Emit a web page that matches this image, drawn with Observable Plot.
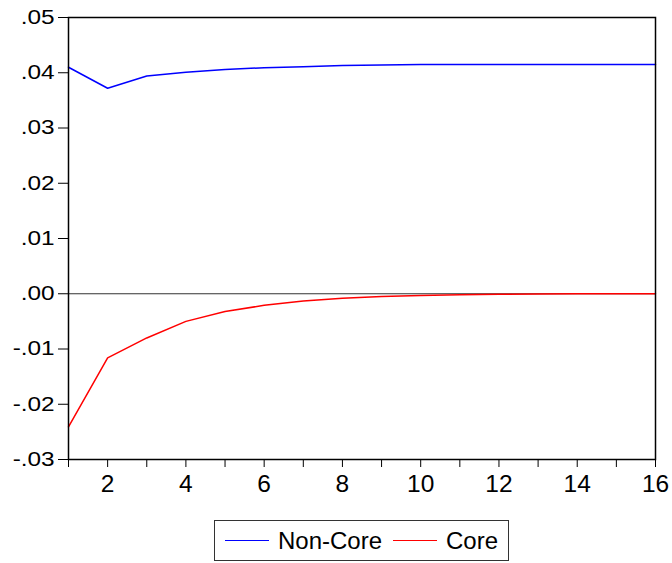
<!DOCTYPE html>
<html>
<head>
<meta charset="utf-8">
<script src="https://cdn.jsdelivr.net/npm/d3@7"></script>
<script src="https://cdn.jsdelivr.net/npm/@observablehq/plot@0.6"></script>
<style>
  body { margin: 0; background: #fff; font-family: "Liberation Sans", Arial, sans-serif; }
  #wrap { position: relative; width: 672px; height: 563px; }
  #chart svg text { font-family: "Liberation Sans", Arial, sans-serif; font-size: 19.5px; fill: #000; }
  #chart svg g[aria-label^="x-axis"] text { font-size: 24.5px; }
  #legend { position: absolute; left: 214px; top: 520px;
            border: 1px solid #333; display: flex; align-items: center; justify-content: space-between;
            padding: 0 10px; box-sizing: border-box; width: 295px; height: 41px;
            font-size: 24px; color: #000; }
  .item { display: flex; align-items: center; }
  .swatch { width: 44px; height: 0; border-top: 1.5px solid; margin-right: 9px; }
</style>
</head>
<body>
<div id="wrap"><div id="chart"></div><div id="legend"></div></div>
<script>
const periods = [1, 2, 3, 4, 5, 6, 7, 8, 9, 10, 11, 12, 13, 14, 15, 16];
const nonCore = [0.0410, 0.0372, 0.0394, 0.0401, 0.0406, 0.0409, 0.0411, 0.0413, 0.0414, 0.0415, 0.0415, 0.0415, 0.0415, 0.0415, 0.0415, 0.0415];
const core = [-0.0241, -0.0116, -0.0080, -0.0050, -0.0032, -0.0021, -0.0013, -0.0008, -0.0005, -0.0003, -0.0002, -0.0001, -0.00005, 0, 0, 0];
const seriesNames = ["Non-Core", "Core"];
const seriesColors = ["#0000ff", "#ff0000"];
const xTicks = [1, 2, 3, 4, 5, 6, 7, 8, 9, 10, 11, 12, 13, 14, 15, 16];
const yTicks = [-0.03, -0.02, -0.01, 0, 0.01, 0.02, 0.03, 0.04, 0.05];

const data = [];
periods.forEach((p, i) => {
  data.push({ period: p, value: nonCore[i], series: seriesNames[0] });
  data.push({ period: p, value: core[i], series: seriesNames[1] });
});

const fmtY = d => {
  const r = Math.round(d * 100);
  return (r < 0 ? "-" : "") + "." + String(Math.abs(r)).padStart(2, "0");
};

const ML = 68, YTICK = 10, YPAD = 4;
const chart = Plot.plot({
  width: 672,
  height: 505,
  marginLeft: ML,
  marginRight: 17,
  marginTop: 17,
  marginBottom: 46,
  style: { fontFamily: "'Liberation Sans', Arial, sans-serif", color: "#000", background: "#fff" },
  x: { domain: [1, 16], label: null },
  y: { domain: [-0.03, 0.05], label: null },
  color: { domain: seriesNames, range: seriesColors },
  marks: [
    Plot.axisX({ ticks: xTicks, tickSize: 8, tickPadding: 7, label: null, tickFormat: d => (d % 2 === 0 ? String(d) : "") }),
    Plot.axisY({ ticks: yTicks, tickSize: YTICK, tickPadding: YPAD, label: null, tickFormat: fmtY }),
    Plot.ruleY([0], { stroke: "#333", strokeWidth: 1 }),
    Plot.lineY(data, { x: "period", y: "value", z: "series", stroke: "series", strokeWidth: 1.5 }),
    Plot.frame({ stroke: "#000", strokeWidth: 1.5 })
  ]
});
document.getElementById("chart").appendChild(chart);

// widen y tick labels horizontally around their right edge, as in the reference
const ax = ML - YTICK - YPAD;
chart.querySelectorAll('g[aria-label="y-axis tick label"]').forEach(g => {
  const old = g.getAttribute("transform") || "";
  g.setAttribute("transform", `translate(${ax},0) scale(1.25,1) translate(${-ax},0) ${old}`);
});

const legend = document.getElementById("legend");
seriesNames.forEach((name, i) => {
  const item = document.createElement("div");
  item.className = "item";
  const sw = document.createElement("div");
  sw.className = "swatch";
  sw.style.borderTopColor = seriesColors[i];
  const lbl = document.createElement("span");
  lbl.textContent = name;
  item.appendChild(sw);
  item.appendChild(lbl);
  legend.appendChild(item);
});
</script>
</body>
</html>
